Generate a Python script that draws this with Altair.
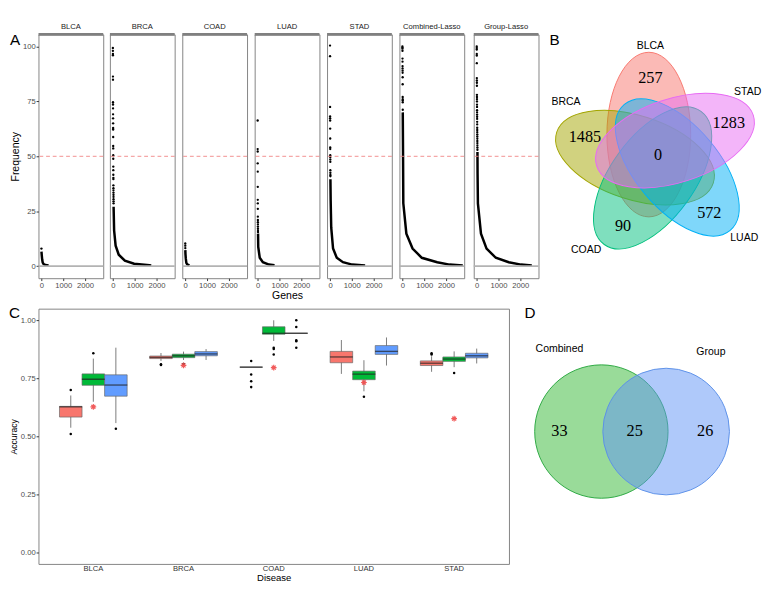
import altair as alt
import pandas as pd

# ---------------- Panel A : gene selection frequency ----------------
PANELS = ["BLCA", "BRCA", "COAD", "LUAD", "STAD", "Combined-Lasso", "Group-Lasso"]

blca_pts = [8.0]
blca_line_rank = [2, 15, 35, 60, 100, 180, 330]
blca_line_freq = [6.6, 5.0, 3.0, 1.6, 0.9, 0.5, 0.3]

brca_pts = [99.3, 98.0, 96.6, 96.0, 86.3, 84.9, 74.6, 73.6, 71.8, 69.1, 67.3, 65.0, 62.9,
            62.2, 58.8, 54.7, 53.6, 50.5, 48.9, 45.3, 43.7, 41.6, 40.2, 39.6, 36.8, 35.5,
            34.5, 33.5, 32.5, 31.5, 30.5, 29.5, 28.6]
brca_line_rank = [34, 58, 127, 270, 550, 975, 1680, 1760]
brca_line_freq = [27.0, 16.2, 9.3, 5.2, 2.5, 1.1, 0.4, 0.3]

coad_pts = [10.3, 9.3, 8.2]
coad_line_rank = [4, 10, 25, 50, 90, 190]
coad_line_freq = [7.3, 5.5, 3.5, 1.5, 0.8, 0.3]

luad_pts = [66.3, 53.3, 52.2, 46.8, 43.0, 36.1, 30.2, 28.6, 26.1, 22.5, 21.0, 20.0, 19.0,
            18.0, 17.0, 16.0, 15.5]
luad_line_rank = [19, 28, 97, 240, 520, 776]
luad_line_freq = [14.8, 8.7, 3.8, 1.8, 0.7, 0.4]

stad_pts = [100.4, 95.6, 72.5, 68.1, 67.3, 66.3, 62.6, 58.1, 54.0, 53.3, 50.5, 49.5, 48.5,
            47.5, 43.7, 42.5, 41.5, 40.9]
stad_line_rank = [19, 30, 42, 55, 140, 310, 593, 1017, 1610]
stad_line_freq = [39.6, 30.0, 24.0, 17.6, 8.0, 3.8, 1.8, 0.7, 0.3]

comb_pts = [100.0, 99.5, 99.0, 98.0, 94.5, 93.1, 91.0, 90.0, 89.0, 88.0, 86.0, 82.8, 77.0,
            76.0, 75.5, 74.6, 71.2]
comb_line_rank = [17, 30, 42, 182, 466, 890, 1596, 2160, 2770]
comb_line_freq = [70.0, 50.5, 28.6, 14.8, 8.0, 3.8, 1.8, 0.7, 0.3]

group_pts = [100.0, 99.3, 98.6, 96.6, 95.9, 92.4, 85.6, 84.5, 83.5, 82.1, 78.0, 77.0, 76.0,
             75.0, 73.5, 72.5, 71.0, 70.0, 69.0, 68.0, 67.0, 65.7, 64.5, 63.0, 62.0, 61.0,
             60.0, 59.0, 58.0, 57.0, 56.0, 55.0, 54.0, 53.0]
group_line_rank = [35, 40, 56, 197, 452, 876, 1470, 2035, 2528]
group_line_freq = [52.0, 42.3, 28.6, 14.8, 8.0, 3.8, 1.8, 0.7, 0.3]

A_SERIES = {
    "BLCA": (blca_pts, blca_line_rank, blca_line_freq),
    "BRCA": (brca_pts, brca_line_rank, brca_line_freq),
    "COAD": (coad_pts, coad_line_rank, coad_line_freq),
    "LUAD": (luad_pts, luad_line_rank, luad_line_freq),
    "STAD": (stad_pts, stad_line_rank, stad_line_freq),
    "Combined-Lasso": (comb_pts, comb_line_rank, comb_line_freq),
    "Group-Lasso": (group_pts, group_line_rank, group_line_freq),
}

A_W, A_H = 68, 256

a_charts = []
for idx, p in enumerate(PANELS):
    pts, lr, lf = A_SERIES[p]
    rows = [{"kind": "pt", "rank": i + 1, "freq": f, "first": i == 0} for i, f in enumerate(pts)]
    rows += [{"kind": "ln", "rank": rr, "freq": f, "first": False} for rr, f in zip(lr, lf)]
    dfp = pd.DataFrame(rows)
    xa = alt.X("rank:Q", scale=alt.Scale(domain=[-135, 2835], nice=False, zero=False),
               axis=alt.Axis(values=[0, 1000, 2000], format="d", labelFlush=False,
                             title="Genes" if p == "LUAD" else None, titleFontSize=11,
                             titlePadding=1))
    ya = alt.Y("freq:Q", scale=alt.Scale(domain=[-5.5, 105.5], nice=False, zero=False),
               axis=(alt.Axis(values=[0, 25, 50, 75, 100], title="Frequency", titleFontSize=11)
                     if idx == 0 else None))
    base = alt.Chart(dfp)
    zero = base.mark_rule(color="#b3b3b3", strokeWidth=2).encode(
        y=alt.datum(0)).transform_filter("datum.first")
    half = base.mark_rule(color="#f08080", strokeWidth=0.9, strokeDash=[4, 3]).encode(
        y=alt.datum(50)).transform_filter("datum.first")
    strip = base.mark_rule(color="#808080", strokeWidth=3).encode(
        y=alt.datum(105.5)).transform_filter("datum.first")
    curve = base.mark_line(color="black", strokeWidth=2.6).encode(
        x=xa, y=ya, order="rank:Q").transform_filter("datum.kind == 'ln'")
    dots = base.mark_circle(size=6, color="black", opacity=1).encode(
        x=xa, y=ya).transform_filter("datum.kind == 'pt'")
    parts = [curve, dots, zero, half, strip]
    if idx == 0:
        parts.append(base.mark_text(fontSize=16, color="black", align="left",
                                    baseline="middle", text="A").encode(
            x=alt.value(-30), y=alt.value(6)).transform_filter("datum.first"))
    a_charts.append(alt.layer(*parts).properties(
        width=A_W, height=A_H,
        title=alt.TitleParams(p, fontSize=8, fontWeight="normal", color="#1a1a1a",
                              offset=2, frame="group")))

# ---------------- Panel B : five-set Venn ----------------
B_SETS = ["BLCA", "BRCA", "COAD", "LUAD", "STAD"]
B_COLORS = ["#F8766D", "#A3A500", "#00BF7D", "#00B0F6", "#E76BF3"]
B_CX = [109.8, 95.3, 113.8, 139.7, 137.3]
B_CY = [105.2, 129.4, 150.7, 139.7, 111.5]
B_ANGLE = [90, 18, 126, 50, 162]
B_LABEL_X = [111.5, 22.9, 44.0, 210.0, 213.6]
B_LABEL_Y = [12.0, 71.0, 226.8, 214.0, 61.0]
B_COUNTS = ["257", "1485", "90", "572", "1283", "0"]
B_COUNT_X = [111.5, 42.7, 82.7, 173.3, 193.8, 119.5]
B_COUNT_Y = [46.0, 107.8, 201.2, 187.5, 93.4, 126.6]
B_LETTER = ["B"]
B_LETTER_X = [11.0]
B_LETTER_Y = [6.0]

WB, HB = 235, 250
k = 0.5523
r = 0.509
ELLIPSE = (f"M -1 0 C -1 {-k*r:.4f} {-k:.4f} {-r} 0 {-r} "
           f"C {k:.4f} {-r} 1 {-k*r:.4f} 1 0 "
           f"C 1 {k*r:.4f} {k:.4f} {r} 0 {r} "
           f"C {-k:.4f} {r} -1 {k*r:.4f} -1 0 Z")

dfB = pd.DataFrame({"set": B_SETS, "cx": B_CX, "cy": B_CY, "angle": B_ANGLE,
                    "lx": B_LABEL_X, "ly": B_LABEL_Y})
dfBc = pd.DataFrame({"n": B_COUNTS, "x": B_COUNT_X, "y": B_COUNT_Y})
dfBl = pd.DataFrame({"t": B_LETTER, "x": B_LETTER_X, "y": B_LETTER_Y})

xB = lambda f: alt.X(f, scale=alt.Scale(domain=[0, WB], nice=False, zero=False), axis=None)
yB = lambda f: alt.Y(f, scale=alt.Scale(domain=[0, HB], nice=False, zero=False, reverse=True), axis=None)

ellipses = alt.Chart(dfB).mark_point(shape=ELLIPSE, filled=True, opacity=1, fillOpacity=0.5,
                                     strokeWidth=1, size=172.8 ** 2, clip=True).encode(
    x=xB("cx:Q"), y=yB("cy:Q"),
    fill=alt.Fill("set:N", scale=alt.Scale(domain=B_SETS, range=B_COLORS), legend=None),
    stroke=alt.Stroke("set:N", scale=alt.Scale(domain=B_SETS, range=B_COLORS), legend=None),
    angle=alt.Angle("angle:Q", scale=None),
)
b_labels = alt.Chart(dfB).mark_text(fontSize=11, color="black").encode(
    x=xB("lx:Q"), y=yB("ly:Q"), text="set:N")
b_counts = alt.Chart(dfBc).mark_text(fontSize=17, font="Liberation Serif", color="black").encode(
    x=xB("x:Q"), y=yB("y:Q"), text="n:N")
b_letter = alt.Chart(dfBl).mark_text(fontSize=16, color="black").encode(
    x=xB("x:Q"), y=yB("y:Q"), text="t:N")

panelB = alt.layer(ellipses, b_labels, b_counts, b_letter).properties(
    width=WB, height=HB, view=alt.ViewBackground(stroke="transparent"))

# ---------------- Panel C : accuracy boxplots ----------------
DISEASES = ["BLCA", "BRCA", "COAD", "LUAD", "STAD"]
METHODS = ["Lasso", "Combined-Lasso", "Group-Lasso"]
M_COLORS = ["#F8766D", "#00BA38", "#619CFF"]

box_disease = ["BLCA"] * 3 + ["BRCA"] * 3 + ["COAD"] * 3 + ["LUAD"] * 3 + ["STAD"] * 3
box_method = METHODS * 5
box_lo = [0.537, 0.649, 0.557, 0.825, 0.829, 0.829, 0.798, 0.911, 0.944, 0.769, 0.694, 0.805, 0.778, 0.798, 0.814]
box_q1 = [0.583, 0.720, 0.673, 0.835, 0.839, 0.847, 0.798, 0.940, 0.944, 0.817, 0.744, 0.853, 0.805, 0.823, 0.838]
box_med = [0.627, 0.746, 0.721, 0.840, 0.847, 0.855, 0.798, 0.944, 0.944, 0.842, 0.768, 0.866, 0.815, 0.833, 0.847]
box_q3 = [0.629, 0.769, 0.765, 0.846, 0.854, 0.865, 0.798, 0.972, 0.944, 0.866, 0.781, 0.891, 0.825, 0.842, 0.858]
box_hi = [0.676, 0.835, 0.882, 0.859, 0.865, 0.876, 0.798, 1.000, 0.944, 0.915, 0.828, 0.926, 0.845, 0.866, 0.878]

out_disease = ["BLCA", "BLCA", "BLCA", "BLCA", "BRCA", "BRCA", "BRCA",
               "COAD", "COAD", "COAD", "COAD", "COAD", "COAD", "COAD",
               "COAD", "COAD", "COAD", "COAD", "COAD", "LUAD", "STAD", "STAD", "STAD"]
out_method = ["Lasso", "Lasso", "Combined-Lasso", "Group-Lasso", "Lasso", "Lasso", "Combined-Lasso",
              "Lasso", "Lasso", "Lasso", "Lasso", "Combined-Lasso", "Combined-Lasso",
              "Combined-Lasso", "Group-Lasso", "Group-Lasso", "Group-Lasso", "Group-Lasso",
              "Group-Lasso", "Combined-Lasso", "Lasso", "Lasso", "Combined-Lasso"]
out_value = [0.700, 0.510, 0.858, 0.533, 0.811, 0.807, 0.812,
             0.825, 0.766, 0.737, 0.712, 0.882, 0.876, 0.853,
             1.000, 0.971, 0.914, 0.910, 0.882, 0.671, 0.858, 0.853, 0.773]

star_disease = ["BLCA", "BRCA", "COAD", "LUAD", "STAD"]
star_value = [0.627, 0.806, 0.796, 0.732, 0.576]

dfBox = pd.DataFrame({"disease": box_disease, "method": box_method, "lo": box_lo, "q1": box_q1,
                      "med": box_med, "q3": box_q3, "hi": box_hi})
dfOut = pd.DataFrame({"disease": out_disease, "method": out_method, "val": out_value})
dfStar = pd.DataFrame({"disease": star_disease, "val": star_value})

xC = alt.X("disease:N", sort=DISEASES,
           scale=alt.Scale(paddingInner=0, paddingOuter=0.108),
           axis=alt.Axis(title="Disease", labelAngle=0, ticks=False, labelColor="#333333",
                         titleFontSize=10, titlePadding=0))
xoC = alt.XOffset("method:N", sort=METHODS,
                  scale=alt.Scale(domain=METHODS, paddingInner=0, paddingOuter=0.5))
yScaleC = alt.Scale(domain=[-0.05, 1.05], nice=False, zero=False)
yAxisC = alt.Axis(values=[0, 0.25, 0.5, 0.75, 1.0], format=".2f", title="Accuracy",
                  titleFontSize=9)
colorC = alt.Color("method:N", scale=alt.Scale(domain=METHODS, range=M_COLORS), legend=None)

whisk = alt.Chart(dfBox).mark_rule(color="#555555", strokeWidth=0.8).encode(
    x=xC, xOffset=xoC, y=alt.Y("lo:Q", scale=yScaleC, axis=yAxisC), y2="hi:Q")
boxes = alt.Chart(dfBox).mark_bar(stroke="#666666", strokeWidth=0.7).encode(
    x=xC, xOffset=xoC, y=alt.Y("q1:Q", scale=yScaleC, axis=yAxisC), y2="q3:Q", color=colorC)
medians = alt.Chart(dfBox).mark_tick(color="#222222", thickness=1.4, size=24).encode(
    x=xC, xOffset=xoC, y=alt.Y("med:Q", scale=yScaleC, axis=yAxisC))
outs = alt.Chart(dfOut).mark_circle(size=7, color="black", opacity=1).encode(
    x=xC, xOffset=xoC, y=alt.Y("val:Q", scale=yScaleC, axis=yAxisC))
ASTER = "M -1 0 L 1 0 M 0 -1 L 0 1 M -0.7 -0.7 L 0.7 0.7 M -0.7 0.7 L 0.7 -0.7"
stars = alt.Chart(dfStar).mark_point(shape=ASTER, size=36, color="#f04a4a", strokeWidth=1.2,
                                     opacity=0.9).encode(
    x=xC, y=alt.Y("val:Q", scale=yScaleC, axis=yAxisC))
c_letter = alt.Chart(pd.DataFrame({"t": ["C"]})).mark_text(
    fontSize=16, color="black", align="left", baseline="middle").encode(
    x=alt.value(-31), y=alt.value(5), text="t:N")

panelC = alt.layer(whisk, boxes, medians, outs, stars, c_letter).properties(
    width=494, height=268)

# ---------------- Panel D : two-set Venn ----------------
D_SETS = ["Combined", "Group"]
D_FILL = ["#33B833", "#5F93F5"]
D_STROKE = ["#2aa840", "#5b8fe8"]
D_CX = [81.0, 149.0]
D_CY = [129.0, 129.0]
D_RADIUS = [79.0, 75.0]
D_LABEL_X = [37.0, 196.0]
D_LABEL_Y = [42.0, 46.0]
D_COUNTS = ["33", "25", "26"]
D_COUNT_X = [37.0, 116.0, 190.0]
D_COUNT_Y = [129.0, 129.0, 129.0]
D_LETTER = ["D"]
D_LETTER_X = [6.0]
D_LETTER_Y = [5.0]

WD, HD = 225, 268
dfD = pd.DataFrame({"dset": D_SETS, "cx": D_CX, "cy": D_CY,
                    "area": [3.14159 * rr * rr for rr in D_RADIUS],
                    "lx": D_LABEL_X, "ly": D_LABEL_Y})
dfDc = pd.DataFrame({"n": D_COUNTS, "x": D_COUNT_X, "y": D_COUNT_Y})
dfDl = pd.DataFrame({"t": D_LETTER, "x": D_LETTER_X, "y": D_LETTER_Y})
xD = lambda f: alt.X(f, scale=alt.Scale(domain=[0, WD], nice=False, zero=False), axis=None)
yD = lambda f: alt.Y(f, scale=alt.Scale(domain=[0, HD], nice=False, zero=False, reverse=True), axis=None)

circles = alt.Chart(dfD).mark_circle(opacity=1, fillOpacity=0.5, strokeWidth=1).encode(
    x=xD("cx:Q"), y=yD("cy:Q"),
    size=alt.Size("area:Q", scale=None, legend=None),
    fill=alt.Fill("dset:N", scale=alt.Scale(domain=D_SETS, range=D_FILL), legend=None),
    stroke=alt.Stroke("dset:N", scale=alt.Scale(domain=D_SETS, range=D_STROKE), legend=None),
)
d_labels = alt.Chart(dfD).mark_text(fontSize=11, color="black").encode(
    x=xD("lx:Q"), y=yD("ly:Q"), text="dset:N")
d_counts = alt.Chart(dfDc).mark_text(fontSize=17, font="Liberation Serif", color="black").encode(
    x=xD("x:Q"), y=yD("y:Q"), text="n:N")
d_letter = alt.Chart(dfDl).mark_text(fontSize=16, color="black").encode(
    x=xD("x:Q"), y=yD("y:Q"), text="t:N")

panelD = alt.layer(circles, d_labels, d_counts, d_letter).properties(
    width=WD, height=HD, view=alt.ViewBackground(stroke="transparent"))

row1 = alt.hconcat(*a_charts, panelB, spacing=3)
row2 = alt.hconcat(panelC, panelD, spacing=14)
chart = alt.vconcat(row1, row2, spacing=4).properties(
    padding={"left": 0, "top": 0, "right": 0, "bottom": 0}
).resolve_scale(fill="independent", stroke="independent", color="independent").configure(
    font="Liberation Sans").configure_axis(
    labelFontSize=8, labelColor="#4d4d4d", titleFontSize=10, titleFontWeight="normal",
    titleColor="black", tickColor="#333333", tickSize=2.5, grid=False, domain=False,
    labelPadding=1, titlePadding=2,
).configure_view(stroke="#7f7f7f", strokeWidth=1)

chart.save("out.html", embed_options={"renderer": "svg", "actions": False})
